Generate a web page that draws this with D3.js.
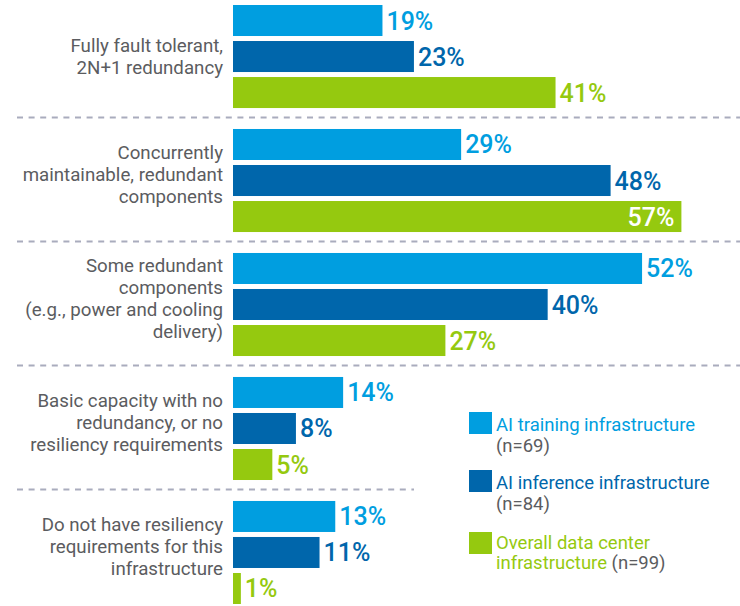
<!DOCTYPE html>
<html>
<head>
<meta charset="utf-8">
<script src="https://cdn.jsdelivr.net/npm/d3@7"></script>
<style>
  body { margin: 0; background: #fff; }
  svg { display: block; font-family: Roboto, 'Noto Sans', sans-serif; }
</style>
</head>
<body>
<div id="chart"></div>
<script>
// data -----------------------------------
var categories = [
  ['Fully fault tolerant,', '2N+1 redundancy'],
  ['Concurrently', 'maintainable, redundant', 'components'],
  ['Some redundant', 'components', '(e.g., power and cooling', 'delivery)'],
  ['Basic capacity with no', 'redundancy, or no', 'resiliency requirements'],
  ['Do not have resiliency', 'requirements for this', 'infrastructure']
]
var seriesNames = ['AI training infrastructure', 'AI inference infrastructure', 'Overall data center infrastructure']
var sampleSizes = ['(n=69)', '(n=84)', '(n=99)']
var training = [19, 29, 52, 14, 13]
var inference = [23, 48, 40, 8, 11]
var overall = [41, 57, 27, 5, 1]

var colors = ['#009ee0', '#0066ab', '#95c90f']
var textGray = '#5b5c60'

var width = 740
var height = 606
var svg = d3.select('#chart').append('svg')
  .attr('width', width)
  .attr('height', height)

var series = [training, inference, overall]
var catIdx = d3.range(categories.length)

var x = d3.scaleLinear().domain([0, 60]).range([233, 705])
var y0 = d3.scaleBand().domain(catIdx).range([5, 604]).paddingInner(0.169)
var y1 = d3.scaleBand().domain([0, 1, 2]).range([0, y0.bandwidth()]).paddingInner(0.139)

// dashed separators
var sep = svg.append('g')
catIdx.slice(1).forEach(function (i) {
  var yy = y0(i) - y0.step() * 0.169 / 2 - 1
  sep.append('line')
    .attr('x1', 17)
    .attr('x2', i === categories.length - 1 ? 414 : width)
    .attr('y1', yy)
    .attr('y2', yy)
    .attr('stroke', '#a9acbd')
    .attr('stroke-width', 2)
    .attr('stroke-dasharray', '6,5.6')
})

// category labels
var lh = 21.8
catIdx.forEach(function (i) {
  var lines = categories[i]
  var shift = lines.length > 2 ? 6 : 0
  var cy = y0(i) + y0.bandwidth() / 2 - shift
  var t = svg.append('text')
    .attr('text-anchor', 'end')
    .attr('fill', textGray)
    .attr('font-size', 18.7)
  lines.forEach(function (l, k) {
    t.append('tspan')
      .attr('x', 223)
      .attr('y', cy - (lines.length - 1) * lh / 2 + k * lh + 6.5)
      .text(l)
  })
})

// bars
series.forEach(function (vals, s) {
  var g = svg.append('g')
  g.selectAll('rect')
    .data(vals)
    .enter()
    .append('rect')
    .attr('x', x(0))
    .attr('y', function (d, i) { return y0(i) + y1(s) })
    .attr('width', function (d) { return x(d) - x(0) })
    .attr('height', y1.bandwidth())
    .attr('fill', colors[s])
  g.selectAll('text')
    .data(vals)
    .enter()
    .append('text')
    .attr('x', function (d) { return d >= 55 ? x(d) - 7 : x(d) + 4 })
    .attr('y', function (d, i) { return y0(i) + y1(s) + y1.bandwidth() / 2 })
    .attr('dy', '0.36em')
    .attr('text-anchor', function (d) { return d >= 55 ? 'end' : 'start' })
    .attr('fill', function (d) { return d >= 55 ? '#fff' : colors[s] })
    .attr('font-size', 25)
    .attr('font-weight', 500)
    .text(function (d) { return d + '%' })
})

// legend
var legTop = [412, 470, 532]
var legend = svg.append('g')
seriesNames.forEach(function (name, s) {
  var ly = legTop[s]
  legend.append('rect')
    .attr('x', 469)
    .attr('y', ly)
    .attr('width', 23)
    .attr('height', 22)
    .attr('fill', colors[s])
  var t = legend.append('text')
    .attr('font-size', 18.5)
  if (s < 2) {
    t.append('tspan').attr('x', 496).attr('y', ly + 19).attr('fill', colors[s]).text(name)
    t.append('tspan').attr('x', 496).attr('y', ly + 40).attr('fill', textGray).text(sampleSizes[s])
  } else {
    t.append('tspan').attr('x', 496).attr('y', ly + 17).attr('fill', colors[s]).text('Overall data center')
    t.append('tspan').attr('x', 496).attr('y', ly + 37).attr('fill', colors[s]).text('infrastructure')
    t.append('tspan').attr('fill', textGray).text(' ' + sampleSizes[s])
  }
})
</script>
</body>
</html>
